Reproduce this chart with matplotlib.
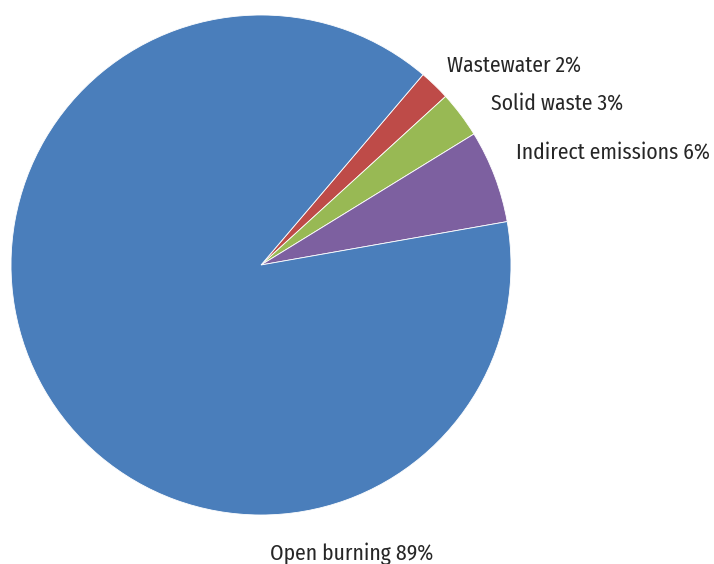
import numpy as np
import matplotlib.pyplot as plt

# Data (clockwise from the top-right edge of the big slice)
labels = ['Wastewater', 'Solid waste', 'Indirect emissions', 'Open burning']
shares = [2, 3, 6, 89]
colors = ['#BE4B48', '#98B954', '#7D60A0', '#4A7EBB']

# label anchor points in pie units (radius = 1), left-aligned except the bottom one
label_xy = [(0.744, 0.80), (0.92, 0.645), (1.02, 0.45), (0.364, -1.155)]
label_ha = ['left', 'left', 'left', 'center']

plt.rcParams['font.family'] = ['Fira Sans Condensed', 'DejaVu Sans']

fig = plt.figure(figsize=(7.14, 5.64), dpi=100)
# circle centre at (261, 265) px, radius 250 px
r_px = 250
cx, cy = 261, 265
W, H = 714, 564
ax = fig.add_axes([(cx - r_px) / W, 1 - (cy + r_px) / H, 2 * r_px / W, 2 * r_px / H])

ax.pie(shares, colors=colors, startangle=49.6, counterclock=False,
       radius=1, wedgeprops=dict(edgecolor='white', linewidth=0.6))
ax.set_xlim(-1, 1)
ax.set_ylim(-1, 1)
ax.set_aspect('equal')
ax.axis('off')

for lab, val, (x, y), ha in zip(labels, shares, label_xy, label_ha):
    ax.text(x, y, f'{lab} {val}%', ha=ha, va='center', fontsize=15.5,
            color='#262626', clip_on=False)

plt.savefig('out.png', dpi=100)
